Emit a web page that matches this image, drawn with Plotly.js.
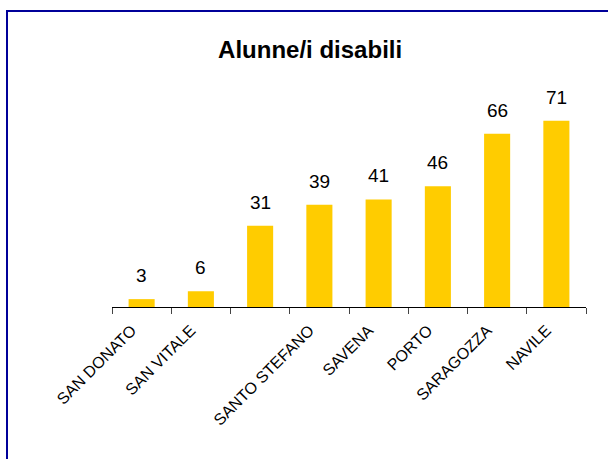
<!DOCTYPE html>
<html>
<head>
<meta charset="utf-8">
<script src="https://cdn.plot.ly/plotly-3.0.1.min.js"></script>
<style>html,body{margin:0;padding:0;background:#fff;}#chart{width:608px;height:459px;}</style>
</head>
<body>
<div id="chart"></div>
<script>
var tickLabels = ["SAN DONATO", "SAN VITALE", "", "SANTO STEFANO", "SAVENA", "PORTO", "SARAGOZZA", "NAVILE"];
var values = [3, 6, 31, 39, 41, 46, 66, 71];
var chartTitle = "Alunne/i disabili";

var xs = values.map(function(v, i){ return i; });
var boundaries = [-0.5].concat(xs.map(function(i){ return i + 0.5; }));

var trace = {
  type: 'bar',
  x: xs,
  y: values,
  marker: {color: '#FFCC00'},
  hoverinfo: 'none'
};

var annotations = values.map(function(v, i){
  return {
    x: i, y: v, xref: 'x', yref: 'y',
    text: String(v), showarrow: false,
    yanchor: 'bottom', yshift: 11,
    font: {family: 'Liberation Sans, Arial, sans-serif', size: 19, color: '#000'}
  };
});

var layout = {
  width: 608, height: 459,
  margin: {l: 112, r: 22, t: 97, b: 152, pad: 0},
  paper_bgcolor: '#fff', plot_bgcolor: '#fff',
  showlegend: false,
  bargap: 0.56,
  title: {
    text: '<b>' + chartTitle + '</b>',
    x: 0.418, xref: 'paper', xanchor: 'center',
    y: 409/459, yref: 'container', yanchor: 'middle',
    font: {family: 'Liberation Sans, Arial, sans-serif', size: 24, color: '#000'}
  },
  xaxis: {
    range: [-0.5, 7.5],
    showticklabels: false,
    ticks: 'outside', ticklen: 6, tickcolor: '#444', tickwidth: 1,
    tickmode: 'array',
    tickvals: boundaries,
    showline: true, linecolor: '#000', linewidth: 1,
    showgrid: false, zeroline: false,
    fixedrange: true
  },
  xaxis2: {
    overlaying: 'x', range: [-0.5, 7.5],
    tickmode: 'array',
    tickvals: xs.map(function(i){ return i - 0.17; }),
    ticktext: tickLabels,
    tickangle: -45,
    ticks: '',
    ticklabelstandoff: 10,
    tickfont: {family: 'Liberation Sans, Arial, sans-serif', size: 16, color: '#000'},
    showline: false, showgrid: false, zeroline: false,
    side: 'bottom', anchor: 'y'
  },
  yaxis: {
    range: [0, 80],
    visible: false,
    showgrid: false, zeroline: false,
    fixedrange: true
  },
  annotations: annotations,
  shapes: [{
    type: 'rect', xref: 'paper', yref: 'paper',
    x0: (7 - 112) / 474, x1: 1.5,
    y0: -2, y1: (307 - 11) / 210,
    line: {color: '#000099', width: 2},
    fillcolor: 'rgba(0,0,0,0)'
  }]
};

var dummy = {type: 'scatter', x: [0], y: [0], xaxis: 'x2', yaxis: 'y', mode: 'markers', marker: {opacity: 0}, hoverinfo: 'none'};

Plotly.newPlot('chart', [trace, dummy], layout, {displayModeBar: false, staticPlot: true});
</script>
</body>
</html>
